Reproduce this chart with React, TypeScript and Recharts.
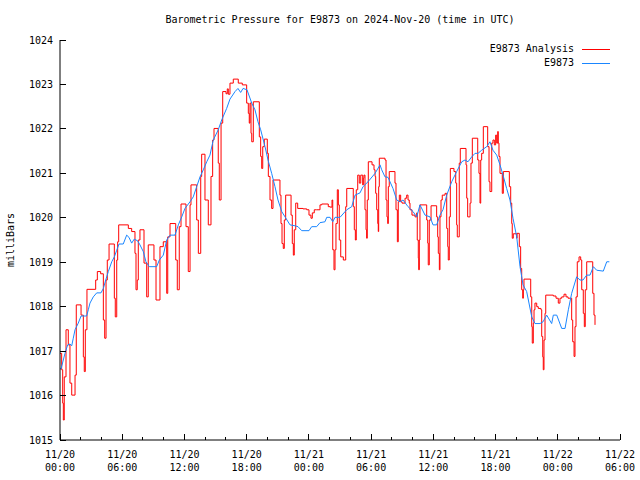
import { LineChart, Line, XAxis, YAxis, Legend } from "recharts";

const FONT = '"DejaVu Sans Mono", "Liberation Mono", monospace';

const ANALYSIS_NAME = "E9873 Analysis";
const STATION_NAME = "E9873";
const ANALYSIS_COLOR = "#ff0000";
const STATION_COLOR = "#1a86ff";

// hours since 2024-11-20 00:00 UTC
const hourTicks = [0, 2, 4, 6, 8, 10, 12, 14, 16, 18, 20, 22, 24, 26, 28, 30, 32, 34, 36, 38, 40, 42, 44, 46, 48, 50, 52, 54];
const dayLabels = ["11/20", "11/20", "11/20", "11/20", "11/21", "11/21", "11/21", "11/21", "11/22", "11/22"];
const clockLabels = ["00:00", "06:00", "12:00", "18:00", "00:00", "06:00", "12:00", "18:00", "00:00", "06:00"];
const pressureTicks = [1015, 1016, 1017, 1018, 1019, 1020, 1021, 1022, 1023, 1024];

const analysisHours = [
  0.0, 0.16, 0.26, 0.32, 0.41, 0.58, 0.8, 0.96, 1.13, 1.45,
  1.57, 2.03, 2.25, 2.34, 2.44, 2.6, 3.44, 3.6, 3.92, 4.18,
  4.31, 4.44, 4.56, 4.73, 5.24, 5.33, 5.47, 5.56, 5.66, 6.59,
  6.91, 7.23, 7.33, 7.45, 7.55, 7.71, 8.1, 8.36, 8.51, 9.06,
  9.26, 9.64, 9.96, 10.29, 10.39, 10.61, 11.16, 11.31, 11.5, 11.67,
  12.15, 12.37, 12.54, 12.63, 13.18, 13.34, 13.57, 13.66, 13.98, 14.3,
  14.56, 14.72, 14.85, 15.26, 15.36, 15.53, 15.69, 16.01, 16.13, 16.23,
  16.39, 16.71, 17.19, 17.58, 18.0, 18.16, 18.25, 18.32, 18.42, 18.49,
  18.64, 19.22, 19.35, 19.45, 19.55, 19.7, 19.99, 20.09, 20.25, 20.41,
  20.54, 21.21, 21.31, 21.41, 21.53, 21.63, 21.76, 22.28, 22.4, 22.5,
  22.59, 22.73, 22.92, 23.43, 23.79, 24.01, 24.2, 24.33, 24.52, 24.75,
  25.07, 25.24, 25.87, 26.04, 26.23, 26.3, 26.42, 26.52, 26.61, 26.74,
  26.84, 26.93, 27.07, 27.32, 27.55, 27.65, 28.28, 28.38, 28.48, 28.57,
  28.71, 28.86, 29.0, 29.19, 29.25, 29.31, 29.41, 29.51, 29.57, 29.63,
  29.73, 30.09, 30.28, 30.38, 30.44, 30.54, 30.64, 30.69, 30.73, 30.79,
  31.34, 31.44, 31.53, 31.6, 31.66, 31.75, 32.3, 32.4, 32.53, 32.62,
  32.72, 32.85, 32.98, 33.27, 33.43, 33.56, 33.68, 33.75, 33.94, 34.23,
  34.4, 34.45, 34.55, 34.59, 34.65, 34.71, 35.36, 35.46, 35.51, 35.61,
  35.78, 36.32, 36.42, 36.48, 36.58, 36.64, 36.74, 36.86, 37.13, 37.29,
  37.39, 37.44, 37.54, 37.64, 37.99, 38.16, 38.25, 38.31, 38.5, 38.6,
  39.15, 39.22, 39.31, 39.54, 39.63, 39.76, 40.28, 40.4, 40.5, 40.57,
  40.66, 40.82, 41.24, 41.37, 41.46, 41.63, 41.75, 41.88, 42.01, 42.11,
  42.21, 42.26, 42.33, 42.43, 42.65, 42.75, 43.33, 43.46, 43.56, 43.61,
  43.71, 44.04, 44.07, 44.29, 44.42, 44.52, 44.62, 44.68, 44.74, 45.39,
  45.49, 45.54, 45.64, 45.71, 45.8, 45.97, 46.12, 46.38, 46.45, 46.55,
  46.6, 46.67, 46.77, 46.84, 47.25, 47.57, 47.83, 48.05, 48.21, 48.38,
  48.6, 48.79, 48.99, 49.34, 49.44, 49.57, 49.66, 49.76, 49.88, 50.05,
  50.21, 50.31, 50.46, 50.56, 50.65, 50.79, 51.3, 51.37, 51.49, 51.59,
];

const analysisMbar = [
  1016.95, 1016.58, 1015.83, 1015.45, 1016.42, 1017.48, 1017.14, 1016.28, 1016.01, 1016.46,
  1018.04, 1017.81, 1016.87, 1016.54, 1017.48, 1018.39, 1018.6, 1018.79, 1018.74, 1017.7,
  1017.29, 1018.6, 1019.05, 1019.41, 1018.19, 1017.77, 1019.05, 1019.46, 1019.84, 1019.76,
  1019.69, 1019.2, 1018.38, 1018.6, 1019.5, 1019.73, 1018.98, 1018.22, 1019.39, 1019.05,
  1018.15, 1019.35, 1019.46, 1018.3, 1019.57, 1019.87, 1019.05, 1018.38, 1019.8, 1020.31,
  1019.8, 1018.79, 1020.29, 1020.74, 1019.95, 1019.2, 1020.93, 1021.43, 1020.4, 1019.84,
  1020.93, 1021.75, 1022.01, 1021.23, 1020.4, 1022.13, 1022.84, 1022.79, 1022.9, 1022.78,
  1023.03, 1023.12, 1023.03, 1022.99, 1022.58, 1022.35, 1022.13, 1022.58, 1021.9, 1021.71,
  1022.61, 1021.82, 1021.38, 1021.11, 1021.6, 1021.77, 1021.45, 1020.93, 1020.4, 1020.21,
  1020.85, 1020.51, 1019.87, 1019.42, 1019.31, 1019.95, 1020.51, 1020.06, 1019.42, 1019.16,
  1019.73, 1020.33, 1020.21, 1020.2, 1020.18, 1020.06, 1019.99, 1020.11, 1020.18, 1020.18,
  1020.29, 1020.31, 1020.25, 1020.24, 1020.4, 1019.28, 1018.83, 1019.28, 1019.87, 1020.63,
  1020.29, 1019.5, 1019.12, 1019.05, 1020.25, 1020.66, 1020.25, 1019.73, 1019.5, 1020.63,
  1020.96, 1020.78, 1020.96, 1020.74, 1020.89, 1020.96, 1020.18, 1019.73, 1019.54, 1020.4,
  1021.26, 1021.19, 1021.08, 1020.93, 1020.55, 1020.18, 1019.87, 1019.69, 1020.7, 1021.34,
  1021.3, 1020.4, 1020.02, 1019.87, 1020.7, 1021.04, 1020.78, 1020.18, 1019.46, 1020.36,
  1020.51, 1020.36, 1020.33, 1020.44, 1020.51, 1020.4, 1020.33, 1020.18, 1020.06, 1020.02,
  1020.11, 1019.5, 1019.09, 1018.83, 1019.5, 1020.29, 1019.95, 1019.43, 1018.94, 1019.95,
  1020.27, 1020.02, 1019.57, 1019.2, 1018.83, 1020.02, 1020.4, 1020.51, 1020.55, 1019.76,
  1019.35, 1019.05, 1020.02, 1021.11, 1021.04, 1020.78, 1019.84, 1019.57, 1021.23, 1021.56,
  1021.19, 1020.44, 1020.02, 1020.33, 1021.23, 1021.79, 1021.3, 1021.0, 1020.33, 1021.3,
  1021.45, 1022.05, 1021.6, 1020.81, 1020.59, 1021.68, 1021.75, 1021.64, 1021.86, 1021.68,
  1021.94, 1021.68, 1021.38, 1021.0, 1020.55, 1021.04, 1020.7, 1020.33, 1019.87, 1019.54,
  1019.64, 1019.54, 1019.65, 1019.35, 1018.86, 1018.38, 1018.19, 1018.38, 1018.62, 1018.22,
  1017.55, 1017.18, 1017.63, 1017.93, 1018.08, 1018.0, 1017.96, 1017.93, 1017.33, 1016.87,
  1016.58, 1017.25, 1017.85, 1018.26, 1018.26, 1018.24, 1018.19, 1018.08, 1018.19, 1018.22,
  1018.28, 1018.22, 1018.19, 1017.7, 1017.21, 1016.88, 1017.55, 1018.22, 1019.01, 1019.12,
  1019.05, 1018.38, 1017.85, 1017.55, 1018.38, 1019.01, 1019.01, 1018.3, 1017.81, 1017.59,
];

const stationHours = [
  0.0, 0.1, 0.32, 0.48, 0.74, 0.96, 1.13, 1.28, 1.45, 1.76,
  2.03, 2.57, 2.73, 2.89, 3.21, 3.54, 3.95, 4.18, 4.41, 4.66,
  4.99, 5.24, 5.47, 5.69, 6.1, 6.43, 6.65, 6.91, 7.16, 7.49,
  7.71, 8.03, 8.29, 8.61, 9.32, 9.58, 9.96, 10.29, 10.61, 11.09,
  11.41, 11.74, 12.05, 12.54, 12.85, 13.18, 13.5, 13.82, 14.15, 14.46,
  14.78, 15.26, 15.59, 16.07, 16.39, 16.88, 17.16, 17.42, 17.65, 18.03,
  18.49, 18.8, 19.09, 19.35, 19.77, 20.06, 20.41, 20.73, 21.02, 21.38,
  21.7, 22.18, 22.66, 22.95, 23.31, 24.01, 24.27, 24.75, 25.07, 25.55,
  25.72, 26.04, 26.3, 26.52, 27.0, 27.65, 28.13, 28.45, 28.93, 29.22,
  29.7, 30.38, 30.86, 31.02, 31.34, 31.63, 32.11, 32.47, 32.79, 33.08,
  33.56, 34.04, 34.4, 34.71, 35.2, 35.68, 35.97, 36.32, 36.64, 36.93,
  37.29, 37.77, 38.25, 38.74, 39.05, 39.34, 39.7, 40.02, 40.31, 40.66,
  41.15, 41.46, 41.75, 42.11, 42.43, 42.72, 43.07, 43.39, 43.68, 44.04,
  44.36, 44.65, 45.0, 45.49, 45.8, 46.29, 46.58, 46.93, 47.41, 47.57,
  47.9, 48.38, 48.7, 49.02, 49.34, 49.82, 50.14, 50.43, 50.79, 51.11,
  51.43, 51.75, 52.39, 52.72, 52.97,
];

const stationMbar = [
  1016.6, 1016.6, 1016.8, 1016.95, 1017.14, 1017.16, 1017.12, 1017.29, 1017.48, 1017.63,
  1017.79, 1017.79, 1017.93, 1018.08, 1018.22, 1018.31, 1018.31, 1018.41, 1018.6, 1018.79,
  1019.01, 1019.12, 1019.27, 1019.41, 1019.41, 1019.61, 1019.56, 1019.43, 1019.52, 1019.48,
  1019.39, 1019.24, 1019.01, 1018.9, 1018.9, 1019.05, 1019.16, 1019.5, 1019.61, 1019.61,
  1019.84, 1020.02, 1020.21, 1020.36, 1020.47, 1020.7, 1020.92, 1021.08, 1021.26, 1021.41,
  1021.75, 1021.98, 1022.2, 1022.46, 1022.67, 1022.84, 1022.91, 1022.82, 1022.91, 1022.88,
  1022.58, 1022.43, 1022.16, 1021.98, 1021.6, 1021.3, 1021.0, 1020.7, 1020.4, 1020.14,
  1020.02, 1019.84, 1019.82, 1019.8, 1019.71, 1019.71, 1019.8, 1019.8, 1019.89, 1019.91,
  1020.01, 1020.01, 1019.91, 1020.01, 1020.01, 1020.18, 1020.25, 1020.51, 1020.56, 1020.7,
  1020.81, 1021.0, 1021.19, 1021.08, 1020.92, 1020.91, 1020.66, 1020.4, 1020.36, 1020.4,
  1020.25, 1020.14, 1020.02, 1020.29, 1020.06, 1020.02, 1019.84, 1019.84, 1020.06, 1020.18,
  1020.51, 1020.81, 1021.04, 1021.26, 1021.3, 1021.26, 1021.37, 1021.45, 1021.45, 1021.52,
  1021.6, 1021.71, 1021.52, 1021.41, 1021.19, 1020.96, 1020.66, 1020.4, 1019.99, 1019.57,
  1018.9, 1018.49, 1018.34, 1017.77, 1017.62, 1017.62, 1017.66, 1017.81, 1017.62, 1017.81,
  1017.81, 1017.51, 1017.51, 1017.93, 1018.3, 1018.67, 1018.6, 1018.6, 1018.71, 1018.71,
  1018.9, 1018.82, 1018.8, 1019.01, 1019.01,
];

const analysisData = analysisHours.map((t, i) => ({ t, p: analysisMbar[i] }));
const stationData = stationHours.map((t, i) => ({ t, p: stationMbar[i] }));

const legendItems = [
  { name: ANALYSIS_NAME, color: ANALYSIS_COLOR },
  { name: STATION_NAME, color: STATION_COLOR },
];

// gnuplot style: ticks point inward, majors every 6h with two-line labels
const TimeTick = (props: any) => {
  const { x, y, payload, side } = props;
  const major = payload.value % 6 === 0;
  const len = major ? 6 : 3;
  const dir = side === "top" ? 1 : -1;
  const i = payload.value / 6;
  return (
    <g>
      <line x1={x} x2={x} y1={y} y2={y + dir * len} stroke="#000" shapeRendering="crispEdges" />
      {side === "bottom" && major && (
        <text x={x} y={y} textAnchor="middle" fontFamily={FONT} fontSize={10} fill="#000">
          <tspan x={x} dy={18}>{dayLabels[i]}</tspan>
          <tspan x={x} dy={13}>{clockLabels[i]}</tspan>
        </text>
      )}
    </g>
  );
};

const PressureTick = (props: any) => {
  const { x, y, payload, side } = props;
  const dir = side === "right" ? -1 : 1;
  return (
    <g>
      <line x1={x} x2={x + dir * 6} y1={y} y2={y} stroke="#000" shapeRendering="crispEdges" />
      {side === "left" && (
        <text x={x - 7} y={y} dy={3.5} textAnchor="end" fontFamily={FONT} fontSize={10} fill="#000">
          {payload.value}
        </text>
      )}
    </g>
  );
};

const AxisTitle = (props: any) => {
  const { viewBox, value } = props;
  const cx = viewBox.x + 10;
  const cy = viewBox.y + viewBox.height / 2;
  return (
    <text
      x={cx}
      y={cy}
      dy={3.5}
      transform={`rotate(-90 ${cx} ${cy})`}
      textAnchor="middle"
      fontFamily={FONT}
      fontSize={10}
      fill="#000"
    >
      {value}
    </text>
  );
};

const LegendBox = () => (
  <div style={{ fontFamily: FONT, fontSize: 10, lineHeight: "14px", color: "#000" }}>
    {legendItems.map((item) => (
      <div key={item.name} style={{ display: "flex", justifyContent: "flex-end", alignItems: "center", height: 14 }}>
        <span>{item.name}</span>
        <div style={{ width: 28, height: 0, borderTop: `1px solid ${item.color}`, marginLeft: 8, marginRight: 10 }} />
      </div>
    ))}
  </div>
);

export default function App() {
  return (
    <div style={{ position: "absolute", left: 0, top: 0, width: 640, height: 480, background: "#fff" }}>
      <div
        style={{
          position: "absolute",
          left: 60,
          top: 13,
          width: 560,
          textAlign: "center",
          fontFamily: FONT,
          fontSize: 10,
          lineHeight: "14px",
          color: "#000",
        }}
      >
        Barometric Pressure for E9873 on 2024-Nov-20 (time in UTC)
      </div>
      <LineChart width={640} height={480} margin={{ top: 40, right: 20, bottom: 0, left: 0 }}>
        <XAxis
          dataKey="t"
          type="number"
          domain={[0, 54]}
          ticks={hourTicks}
          interval={0}
          height={40}
          tickSize={0}
          tickMargin={0}
          tickLine={false}
          axisLine={{ stroke: "#000" }}
          tick={<TimeTick side="bottom" />}
        />
        <XAxis
          xAxisId="top"
          orientation="top"
          dataKey="t"
          type="number"
          domain={[0, 54]}
          ticks={hourTicks}
          interval={0}
          height={0}
          tickSize={0}
          tickMargin={0}
          tickLine={false}
          axisLine={{ stroke: "#000" }}
          tick={<TimeTick side="top" />}
        />
        <YAxis
          type="number"
          domain={[1015, 1024]}
          ticks={pressureTicks}
          interval={0}
          width={60}
          tickSize={0}
          tickMargin={0}
          tickLine={false}
          axisLine={{ stroke: "#000" }}
          tick={<PressureTick side="left" />}
          label={{ value: "milliBars", content: <AxisTitle /> }}
        />
        <YAxis
          yAxisId="right"
          orientation="right"
          type="number"
          domain={[1015, 1024]}
          ticks={pressureTicks}
          interval={0}
          width={0}
          tickSize={0}
          tickMargin={0}
          tickLine={false}
          axisLine={{ stroke: "#000" }}
          tick={<PressureTick side="right" />}
        />
        <Legend
          layout="horizontal"
          verticalAlign="middle"
          align="center"
          content={<LegendBox />}
          wrapperStyle={{ top: 42, left: 420, width: 200, height: 28 }}
        />
        <Line
          data={analysisData}
          dataKey="p"
          name={ANALYSIS_NAME}
          type="stepAfter"
          stroke={ANALYSIS_COLOR}
          strokeWidth={1}
          dot={false}
          activeDot={false}
          isAnimationActive={false}
        />
        <Line
          data={stationData}
          dataKey="p"
          name={STATION_NAME}
          type="linear"
          stroke={STATION_COLOR}
          strokeWidth={1}
          dot={false}
          activeDot={false}
          isAnimationActive={false}
        />
      </LineChart>
    </div>
  );
}
